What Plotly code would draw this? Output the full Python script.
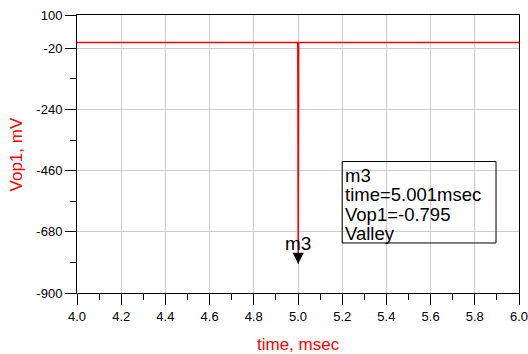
import plotly.graph_objects as go

# Transient trace of Vop1 around the valley at t = 5.001 ms
time_ms = [4.0, 4.999, 5.001, 5.003, 6.0]
vop1_mv = [1, 1, -795, 1, 1]

# Marker m3 readout
marker_name = "m3"
marker_time = 5.001
marker_value_v = -0.795
marker_lines = ["m3", "time=5.001msec", "Vop1=-0.795", "Valley"]

x_tickvals = [4.0, 4.2, 4.4, 4.6, 4.8, 5.0, 5.2, 5.4, 5.6, 5.8, 6.0]
x_minorvals = [4.1, 4.3, 4.5, 4.7, 4.9, 5.1, 5.3, 5.5, 5.7, 5.9]
y_tickvals = [100, -20, -240, -460, -680, -900]
y_minorvals = [-130, -350, -570, -790]

FONT = "Arial, Liberation Sans, sans-serif"

fig = go.Figure()
fig.add_trace(go.Scatter(
    x=time_ms, y=vop1_mv, mode="lines",
    line=dict(color="#ff0000", width=1.5),
    hoverinfo="skip", showlegend=False,
))

axis_common = dict(
    showline=True, linecolor="black", linewidth=1, mirror=True,
    ticks="outside", ticklen=11, tickcolor="black", tickwidth=1,
    showgrid=True, gridcolor="#cccccc", gridwidth=1,
    zeroline=False, tickfont=dict(family=FONT, size=13, color="black"),
    ticklabeloverflow="allow", automargin=False,
)

fig.update_xaxes(
    range=[4.0, 6.0], tickvals=x_tickvals,
    ticktext=[f"{v:.1f}" for v in x_tickvals],
    minor=dict(tickvals=x_minorvals, ticks="outside", ticklen=6,
               tickcolor="black", showgrid=False),
    **axis_common,
)
fig.update_yaxes(
    range=[-900, 100], tickvals=y_tickvals,
    ticktext=[str(v) for v in y_tickvals],
    minor=dict(tickvals=y_minorvals, ticks="outside", ticklen=6,
               tickcolor="black", showgrid=False),
    **axis_common,
)

annotations = [
    # axis titles
    dict(text="time, msec", xref="paper", yref="paper", x=0.5, y=-0.185,
         xanchor="center", yanchor="middle", showarrow=False,
         font=dict(family=FONT, size=17, color="#ff0000")),
    dict(text="Vop1, mV", xref="paper", yref="paper", x=-0.137, y=0.5,
         xanchor="center", yanchor="middle", showarrow=False, textangle=-90,
         font=dict(family=FONT, size=17, color="#ff0000")),
    # valley marker
    dict(text=marker_name, x=marker_time, y=marker_value_v * 1000,
         showarrow=True, arrowhead=2, arrowsize=2.2, arrowwidth=1,
         arrowcolor="black", ax=0, ay=-20, standoff=0,
         font=dict(family=FONT, size=19, color="black")),
]

# readout box text, one line per annotation for tight spacing
for i, line in enumerate(marker_lines):
    annotations.append(dict(
        text=line, x=5.2, y=-427, xanchor="left", yanchor="top",
        xshift=1, yshift=-1 - 19.5 * i, showarrow=False,
        font=dict(family=FONT, size=18.5, color="black"),
    ))

fig.update_layout(
    width=528, height=354,
    margin=dict(l=77, r=9, t=15, b=61, autoexpand=False),
    paper_bgcolor="white", plot_bgcolor="white",
    annotations=annotations,
    shapes=[dict(type="rect", xref="x", yref="y", x0=5.2, x1=5.896,
                 y0=-720, y1=-427, line=dict(color="black", width=1),
                 fillcolor="rgba(0,0,0,0)")],
)

fig.write_html("out.html")
